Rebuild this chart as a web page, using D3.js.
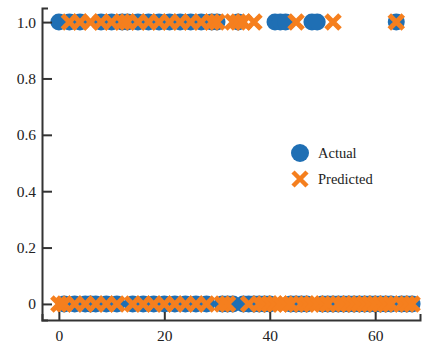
<!DOCTYPE html>
<html>
<head>
<meta charset="utf-8">
<script src="https://cdn.jsdelivr.net/npm/d3@7"></script>
<style>
  body { margin: 0; background: #fff; }
  svg { font-family: "Liberation Serif", "DejaVu Serif", serif; }
</style>
</head>
<body>
<div id="chart"></div>
<script>
// sample index, actual class, predicted class
const sampleIdx = d3.range(68);
const actual = [
  1,0,1,0,1,0,0,0,1,0, 1,0,1,1,0,1,0,1,0,1,
  0,1,0,1,0,1,0,1,0,1, 1,0,0,0,1,0,0,0,0,0,
  0,1,1,1,0,0,0,0,1,1, 0,0,0,0,0,0,0,0,0,0,
  0,0,0,0,1,0,0,0
];
const predicted = [
  0,0,1,0,1,0,1,0,1,0, 1,0,1,1,0,1,0,1,0,1,
  0,1,0,1,0,1,0,1,0,1, 1,0,0,1,1,1,0,1,0,0,
  0,0,0,0,0,1,0,0,0,0, 0,0,1,0,0,0,0,0,0,0,
  0,0,0,0,1,0,0,0
];
const yTicks = [0, 0.2, 0.4, 0.6, 0.8, 1.0];
const xTicks = [0, 20, 40, 60];
const seriesNames = ['Actual', 'Predicted'];

const width = 436, height = 352;
const blue = '#1f6fb4', orange = '#f57f1e';

const svg = d3.select('#chart').append('svg')
  .attr('width', width)
  .attr('height', height);

const x = d3.scaleLinear().domain([-3.2, 68.5]).range([42, 420]);
const y = d3.scaleLinear().domain([-0.057, 1.05]).range([320, 8]);

// actual values: circles
svg.append('g')
  .selectAll('circle')
  .data(sampleIdx)
  .enter().append('circle')
  .attr('cx', (d) => x(d))
  .attr('cy', (d) => y(actual[d]))
  .attr('r', 8.5)
  .attr('fill', blue);

// predicted values: crosses drawn on top
const s = 7;
const cross = (cx, cy) =>
  `M${cx - s},${cy - s}L${cx + s},${cy + s}M${cx - s},${cy + s}L${cx + s},${cy - s}`;

svg.append('g')
  .selectAll('path')
  .data(sampleIdx)
  .enter().append('path')
  .attr('d', (d) => cross(x(d), y(predicted[d])))
  .attr('stroke', orange)
  .attr('stroke-width', 5)
  .attr('fill', 'none');

// axes, ticks pointing inward
const yAxis = d3.axisLeft(y)
  .tickValues(yTicks)
  .tickFormat((d) => (d === 0 ? '0' : d3.format('.1f')(d)))
  .tickSize(-10)
  .tickSizeOuter(-6)
  .tickPadding(6);

const xAxis = d3.axisBottom(x)
  .tickValues(xTicks)
  .tickSize(-8)
  .tickSizeOuter(-6)
  .tickPadding(10);

const gy = svg.append('g').attr('transform', 'translate(42,0)').call(yAxis);
const gx = svg.append('g').attr('transform', 'translate(0,320)').call(xAxis);

[gx, gy].forEach((g) => {
  g.selectAll('path, line').attr('stroke', '#333').attr('stroke-width', 2);
  g.selectAll('text').attr('font-size', 15.5).attr('fill', '#222')
    .attr('font-family', '"Liberation Serif", serif');
});

// legend
const legend = svg.append('g');
legend.append('circle')
  .attr('cx', 300).attr('cy', 153).attr('r', 9).attr('fill', blue);
legend.append('path')
  .attr('d', cross(300, 179))
  .attr('stroke', orange).attr('stroke-width', 4.5).attr('fill', 'none');
legend.selectAll('text.lbl')
  .data(seriesNames)
  .enter().append('text')
  .attr('class', 'lbl')
  .attr('x', 318)
  .attr('y', (d, i) => 158 + i * 26)
  .attr('font-size', 14.5)
  .attr('fill', '#222')
  .text((d) => d);
</script>
</body>
</html>
